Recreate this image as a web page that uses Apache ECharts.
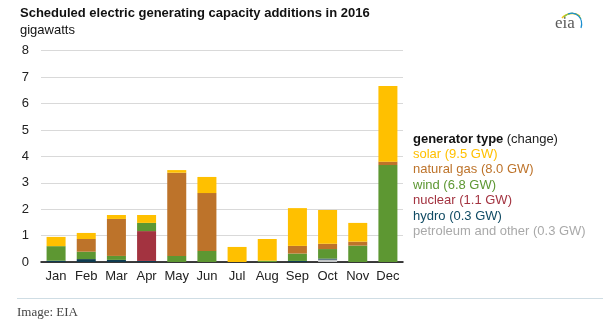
<!DOCTYPE html>
<html>
<head>
<meta charset="utf-8">
<script src="https://cdn.jsdelivr.net/npm/echarts@6/dist/echarts.min.js"></script>
<style>
  html, body { margin: 0; padding: 0; background: #fff; }
  #chart { width: 603px; height: 336px; }
</style>
</head>
<body>
<div id="chart"></div>
<script>
// Months along the x axis
const months = ['Jan', 'Feb', 'Mar', 'Apr', 'May', 'Jun', 'Jul', 'Aug', 'Sep', 'Oct', 'Nov', 'Dec'];

// Scheduled additions by generator type, gigawatts per month
const petroleum  = [0, 0, 0, 0, 0, 0, 0, 0, 0, 0.09, 0, 0];
const hydro      = [0.05, 0.11, 0.08, 0.04, 0, 0, 0, 0, 0.04, 0.04, 0, 0];
const nuclear    = [0, 0, 0, 1.13, 0, 0, 0, 0, 0, 0, 0, 0];
const wind       = [0.55, 0.28, 0.15, 0.31, 0.23, 0.42, 0, 0.05, 0.28, 0.36, 0.62, 3.67];
const naturalGas = [0, 0.48, 1.40, 0, 3.15, 2.19, 0, 0, 0.29, 0.20, 0.15, 0.13];
const solar      = [0.35, 0.23, 0.15, 0.30, 0.10, 0.61, 0.57, 0.82, 1.43, 1.28, 0.71, 2.86];

// Annual totals quoted in the legend, GW
const typeNames  = ['solar', 'natural gas', 'wind', 'nuclear', 'hydro', 'petroleum and other'];
const typeTotals = ['9.5', '8.0', '6.8', '1.1', '0.3', '0.3'];

// Y-axis ticks
const yTicks = [0, 1, 2, 3, 4, 5, 6, 7, 8];

const barColors = {
  'solar': '#FFC000',
  'natural gas': '#BD732A',
  'wind': '#5D9732',
  'nuclear': '#A33340',
  'hydro': '#0F3B50',
  'petroleum and other': '#C3C6C8'
};
const textColors = {
  'solar': '#FFC000',
  'natural gas': '#BD732A',
  'wind': '#5D9732',
  'nuclear': '#A33340',
  'hydro': '#0F4A63',
  'petroleum and other': '#A9A9A9'
};

const label = (n) => n + ' (' + typeTotals[typeNames.indexOf(n)] + ' GW)';

// Stack from the bottom up
const stackOrder = [
  ['petroleum and other', petroleum],
  ['hydro', hydro],
  ['nuclear', nuclear],
  ['wind', wind],
  ['natural gas', naturalGas],
  ['solar', solar]
];

const series = stackOrder.map(([name, values]) => ({
  name: label(name),
  type: 'bar',
  stack: 'total',
  barWidth: '63%',
  itemStyle: { color: barColors[name] },
  emphasis: { disabled: true },
  data: values
}));

const chart = echarts.init(document.getElementById('chart'), null, { renderer: 'canvas' });

chart.setOption({
  animation: false,
  backgroundColor: '#ffffff',
  textStyle: { fontFamily: 'Arial, "Liberation Sans", sans-serif' },
  grid: { left: 41, right: 200, top: 50.7, bottom: 74, containLabel: false },
  xAxis: {
    type: 'category',
    data: months,
    axisLine: { lineStyle: { color: '#000', width: 1.5 } },
    axisTick: { show: false },
    axisLabel: { color: '#222', fontSize: 13, margin: 8, interval: 0 }
  },
  yAxis: {
    type: 'value',
    min: yTicks[0],
    max: yTicks[yTicks.length - 1],
    interval: 1,
    axisLine: { show: false },
    axisTick: { show: false },
    axisLabel: { color: '#222', fontSize: 13, margin: 12 },
    splitLine: { lineStyle: { color: '#D9D9D9', width: 1 } }
  },
  legend: {
    orient: 'vertical',
    left: 403,
    top: 143,
    icon: 'rect',
    itemWidth: 0,
    itemHeight: 0,
    itemGap: 2.4,
    selectedMode: false,
    textStyle: { fontSize: 13, fontFamily: 'Arial, "Liberation Sans", sans-serif', lineHeight: 13 },
    data: typeNames.map(n => ({ name: label(n), textStyle: { color: textColors[n] } }))
  },
  graphic: [
    {
      type: 'text', left: 20, top: 7,
      style: { text: 'Scheduled electric generating capacity additions in 2016', font: 'bold 13px Arial, "Liberation Sans", sans-serif', fill: '#111' }
    },
    {
      type: 'text', left: 20, top: 24,
      style: { text: 'gigawatts', font: '13px Arial, "Liberation Sans", sans-serif', fill: '#111' }
    },
    {
      type: 'text', left: 413, top: 132.5,
      style: {
        text: '{b|generator type} {n|(change)}',
        rich: {
          b: { font: 'bold 13px Arial, "Liberation Sans", sans-serif', fill: '#111' },
          n: { font: '13px Arial, "Liberation Sans", sans-serif', fill: '#222' }
        }
      }
    },
    // eia mark
    {
      type: 'text', left: 555, top: 15,
      style: { text: 'eia', font: '17px "Liberation Serif", "DejaVu Serif", serif', fill: '#5a5a5a' }
    },
    {
      type: 'bezierCurve',
      shape: { x1: 562, y1: 18, x2: 580, y2: 16, cpx1: 566, cpy1: 13, cpx2: 575, cpy2: 12 },
      style: { stroke: '#F2C315', lineWidth: 1.5, fill: null }
    },
    {
      type: 'bezierCurve',
      shape: { x1: 564, y1: 17, x2: 581, y2: 19, cpx1: 569, cpy1: 12, cpx2: 578, cpy2: 12 },
      style: { stroke: '#8DC63F', lineWidth: 1.2, fill: null }
    },
    {
      type: 'bezierCurve',
      shape: { x1: 568, y1: 14, x2: 581, y2: 28, cpx1: 576, cpy1: 11, cpx2: 584, cpy2: 18 },
      style: { stroke: '#1C8FD0', lineWidth: 1.2, fill: null }
    },
    // footer
    {
      type: 'line',
      shape: { x1: 17, y1: 298.5, x2: 603, y2: 298.5 },
      style: { stroke: '#CFDDE4', lineWidth: 1 }
    },
    {
      type: 'text', left: 17, top: 306,
      style: { text: 'Image: EIA', font: '13px "Liberation Serif", "DejaVu Serif", serif', fill: '#444' }
    }
  ],
  series: series
});
</script>
</body>
</html>
